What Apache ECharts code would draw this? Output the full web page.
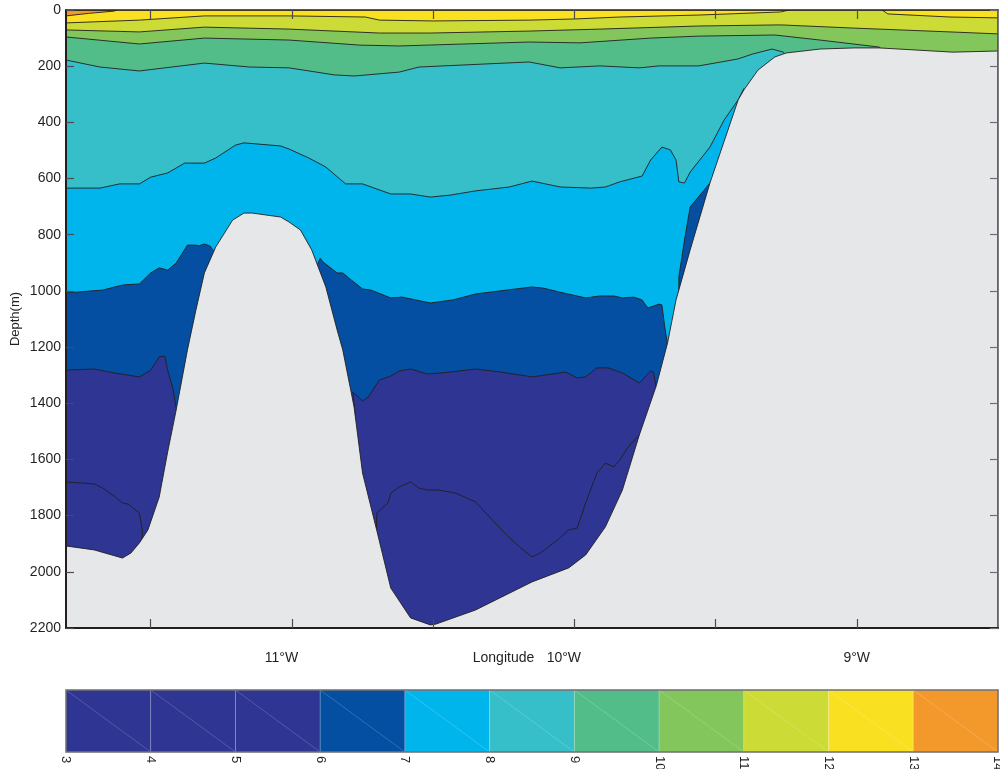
<!DOCTYPE html>
<html>
<head>
<meta charset="utf-8">
<script src="https://cdn.jsdelivr.net/npm/echarts@6/dist/echarts.min.js"></script>
<style>
  html, body { margin: 0; padding: 0; background: #ffffff; }
  #chart { width: 1000px; height: 769px; }
</style>
</head>
<body>
<div id="chart"></div>
<script>
// Section extent: longitude (degrees, west negative) and depth (m)
const lonExtent = [-11.8, -8.5];
const depthExtent = [0, 2200];
const lonTicks = [-11.5, -11, -10.5, -10, -9.5, -9];
const lonLabels = [-11, -10, -9];
const depthInterval = 200;

// Temperature levels (°C) and the fill colour of each interval
const levels = [3, 4, 5, 6, 7, 8, 9, 10, 11, 12, 13, 14];
const levelColors = ['#2e3592', '#2e3592', '#2e3592', '#044fa2', '#00b5ec', '#36bfc8',
                     '#53bd8a', '#83c65b', '#ccdb36', '#f9e020', '#f3992c'];

// Isotherms as [longitude, depth] vertices, west to east.
// Where an isotherm meets the sea floor it continues under the bottom profile.
const iso13 = [[-11.80, 21], [-11.72, 12], [-11.63, 4], [-11.62, 0]];
const iso12West = [[-11.80, 46], [-11.54, 36], [-11.31, 21], [-11.01, 21], [-10.74, 25], [-10.69, 36],
  [-10.50, 39], [-10.16, 36], [-10.00, 32], [-9.84, 25], [-9.56, 18], [-9.27, 7], [-9.24, 0]];
const iso12East = [[-8.91, 0], [-8.89, 14], [-8.67, 25], [-8.50, 28]];
const iso11 = [[-11.80, 71], [-11.54, 78], [-11.31, 61], [-11.01, 68], [-10.69, 82], [-10.51, 82],
  [-10.16, 75], [-9.91, 68], [-9.56, 57], [-9.27, 53], [-9.02, 64], [-8.67, 78], [-8.50, 85]];
const iso10 = [[-11.80, 96], [-11.54, 121], [-11.31, 100], [-11.01, 107], [-10.76, 125], [-10.62, 128],
  [-10.16, 114], [-9.98, 117], [-9.73, 100], [-9.56, 93], [-9.29, 89], [-9.13, 107], [-8.92, 132],
  [-8.85, 220], [-8.50, 220]];
const iso9 = [[-11.80, 178], [-11.68, 203], [-11.54, 217], [-11.45, 206], [-11.31, 189], [-11.15, 203],
  [-11.01, 206], [-10.85, 231], [-10.78, 235], [-10.62, 221], [-10.55, 203], [-10.16, 185], [-10.05, 206],
  [-9.91, 199], [-9.77, 206], [-9.70, 199], [-9.56, 199], [-9.48, 185], [-9.42, 174], [-9.37, 157],
  [-9.30, 139], [-9.26, 150], [-9.15, 300], [-8.50, 300]];
const iso8 = [[-11.80, 634], [-11.68, 634], [-11.61, 619], [-11.54, 619], [-11.50, 595], [-11.44, 580],
  [-11.38, 545], [-11.31, 545], [-11.27, 527], [-11.20, 481], [-11.17, 473], [-11.04, 484], [-11.01, 495],
  [-10.94, 527], [-10.88, 559], [-10.81, 619], [-10.75, 619], [-10.65, 655], [-10.58, 655], [-10.51, 666],
  [-10.44, 659], [-10.35, 644], [-10.23, 630], [-10.15, 609], [-10.05, 630], [-9.94, 634], [-9.89, 630],
  [-9.84, 612], [-9.76, 591], [-9.73, 534], [-9.69, 488], [-9.66, 498], [-9.64, 534], [-9.63, 612],
  [-9.61, 616], [-9.59, 577], [-9.52, 488], [-9.47, 392], [-9.42, 320], [-9.40, 280], [-9.30, 420],
  [-8.50, 420]];
const iso7 = [[-11.80, 1007], [-11.67, 997], [-11.60, 979], [-11.54, 975], [-11.50, 936], [-11.47, 918],
  [-11.44, 926], [-11.41, 901], [-11.37, 837], [-11.34, 837], [-11.33, 840], [-11.31, 833], [-11.29, 840],
  [-11.28, 854], [-11.10, 1000], [-10.95, 1000],
  [-10.90, 884], [-10.89, 897], [-10.84, 936], [-10.82, 936], [-10.79, 961], [-10.75, 993], [-10.72, 997],
  [-10.65, 1025], [-10.61, 1022], [-10.51, 1043], [-10.43, 1032], [-10.35, 1011], [-10.24, 997],
  [-10.15, 986], [-10.11, 990], [-10.04, 1007], [-9.96, 1025], [-9.91, 1018], [-9.86, 1018], [-9.83, 1025],
  [-9.79, 1022], [-9.76, 1032], [-9.74, 1061], [-9.70, 1047], [-9.69, 1050], [-9.68, 1128], [-9.67, 1193],
  [-9.58, 1193], [-9.62, 1040], [-9.63, 1032], [-9.63, 950], [-9.61, 819], [-9.59, 701], [-9.52, 616],
  [-9.40, 616], [-8.50, 616]];
const iso6 = [[-11.80, 1282], [-11.70, 1278], [-11.63, 1292], [-11.54, 1306], [-11.50, 1282], [-11.47, 1235],
  [-11.45, 1232], [-11.44, 1282], [-11.42, 1353], [-11.41, 1417], [-11.10, 1300], [-10.80, 1450],
  [-10.775, 1450], [-10.785, 1360], [-10.75, 1392], [-10.73, 1378], [-10.69, 1317], [-10.65, 1303],
  [-10.62, 1285], [-10.58, 1278], [-10.52, 1296], [-10.44, 1289], [-10.35, 1278], [-10.26, 1289],
  [-10.15, 1306], [-10.03, 1289], [-9.99, 1310], [-9.96, 1306], [-9.92, 1274], [-9.88, 1274], [-9.83, 1292],
  [-9.77, 1328], [-9.73, 1285], [-9.72, 1289], [-9.71, 1346], [-9.60, 1346], [-8.50, 1346]];
const iso5 = [[-11.80, 1680], [-11.70, 1687], [-11.67, 1702], [-11.63, 1730], [-11.60, 1755], [-11.58, 1759],
  [-11.54, 1791], [-11.53, 1851], [-11.53, 1905], [-11.30, 1950], [-10.80, 1950],
  [-10.70, 1851], [-10.70, 1791], [-10.66, 1755], [-10.65, 1720], [-10.62, 1698], [-10.58, 1680],
  [-10.55, 1702], [-10.52, 1709], [-10.48, 1709], [-10.42, 1720], [-10.35, 1751], [-10.30, 1805],
  [-10.24, 1869], [-10.19, 1915], [-10.15, 1947], [-10.12, 1933], [-10.06, 1887], [-10.02, 1851],
  [-9.99, 1844], [-9.96, 1755], [-9.92, 1648], [-9.89, 1613], [-9.86, 1627], [-9.84, 1602], [-9.81, 1556],
  [-9.77, 1513], [-9.60, 1513], [-8.50, 1513]];

// Sea-floor profile
const bottom = [[-11.80, 1908], [-11.70, 1922], [-11.60, 1951], [-11.57, 1933], [-11.54, 1897],
  [-11.51, 1851], [-11.47, 1734], [-11.44, 1573], [-11.41, 1424], [-11.37, 1210], [-11.34, 1068],
  [-11.31, 936], [-11.27, 844], [-11.21, 748], [-11.17, 723], [-11.14, 723], [-11.04, 737], [-11.01, 755],
  [-10.97, 783], [-10.93, 854], [-10.88, 986], [-10.84, 1139], [-10.82, 1210], [-10.78, 1413],
  [-10.75, 1648], [-10.70, 1851], [-10.65, 2058], [-10.58, 2164], [-10.51, 2189], [-10.49, 2186],
  [-10.35, 2136], [-10.15, 2036], [-10.02, 1986], [-9.96, 1940], [-9.89, 1840], [-9.83, 1709],
  [-9.77, 1513], [-9.71, 1338], [-9.67, 1185], [-9.64, 1032], [-9.59, 854], [-9.52, 616], [-9.42, 320],
  [-9.40, 285], [-9.35, 214], [-9.29, 167], [-9.25, 153], [-9.13, 139], [-9.01, 135], [-8.92, 135],
  [-8.66, 150], [-8.50, 146]];

const ink = '#231f20';
const floorColor = '#e6e7e8';
const font = "'Liberation Sans', Arial, Helvetica, sans-serif";

// Region on the warm (shallow) side of an isotherm, closed along the surface
function warmSide(line) {
  const pts = line.slice();
  const first = pts[0], last = pts[pts.length - 1];
  if (first[0] === lonExtent[0] && first[1] > depthExtent[0]) pts.unshift([lonExtent[0], depthExtent[0]]);
  if (last[0] === lonExtent[1] && last[1] > depthExtent[0]) pts.push([lonExtent[1], depthExtent[0]]);
  return pts;
}

function polygonSeries(name, pts, fill, z) {
  return {
    type: 'custom', name, xAxisIndex: 0, yAxisIndex: 0, z, silent: true, clip: true,
    data: pts,
    renderItem(params, api) {
      if (params.dataIndex !== 0) return null;
      return {
        type: 'polygon',
        shape: { points: pts.map(p => api.coord(p)) },
        style: { fill, stroke: ink, lineWidth: 0.9, lineJoin: 'round' }
      };
    }
  };
}

const basePoly = [[lonExtent[0], depthExtent[0]], [lonExtent[1], depthExtent[0]],
  [lonExtent[1], depthExtent[1]], [lonExtent[0], depthExtent[1]]];
const floorPoly = bottom.concat([[lonExtent[1], depthExtent[1]], [lonExtent[0], depthExtent[1]]]);

const color = t => levelColors[t - levels[0]];
const layers = [
  ['base', basePoly, color(3)],
  ['5', warmSide(iso5), color(5)],
  ['6', warmSide(iso6), color(6)],
  ['7', warmSide(iso7), color(7)],
  ['8', warmSide(iso8), color(8)],
  ['9', warmSide(iso9), color(9)],
  ['10', warmSide(iso10), color(10)],
  ['11', warmSide(iso11), color(11)],
  ['12w', warmSide(iso12West), color(12)],
  ['12e', warmSide(iso12East), color(12)],
  ['13', warmSide(iso13), color(13)],
  ['floor', floorPoly, floorColor]
];

const series = layers.map((l, i) => polygonSeries(l[0], l[1], l[2], 2 + i * 0.01));

// Colour bar cells
const cells = levelColors.map((c, i) => [levels[i], levels[i + 1], i]);
series.push({
  type: 'custom', name: 'colorbar', xAxisIndex: 2, yAxisIndex: 2, silent: true,
  data: cells,
  renderItem(params, api) {
    const lo = api.value(0), hi = api.value(1);
    const tl = api.coord([lo, 1]), br = api.coord([hi, 0]);
    return {
      type: 'group',
      children: [
        { type: 'rect', shape: { x: tl[0], y: tl[1], width: br[0] - tl[0], height: br[1] - tl[1] },
          style: { fill: levelColors[api.value(2)], stroke: 'rgba(255,255,255,0.22)', lineWidth: 0.8 } },
        { type: 'line', shape: { x1: tl[0], y1: tl[1], x2: br[0], y2: br[1] },
          style: { stroke: 'rgba(255,255,255,0.3)', lineWidth: 0.6 } }
      ]
    };
  }
});
series.push({
  type: 'custom', name: 'colorbar frame', xAxisIndex: 2, yAxisIndex: 2, silent: true, z: 5,
  data: [[levels[0], levels[levels.length - 1]]],
  renderItem(params, api) {
    const tl = api.coord([api.value(0), 1]), br = api.coord([api.value(1), 0]);
    return { type: 'rect', shape: { x: tl[0], y: tl[1], width: br[0] - tl[0], height: br[1] - tl[1] },
      style: { fill: 'none', stroke: '#6d6e71', lineWidth: 1.5 } };
  }
});

const labelStyle = { fontFamily: font, fontSize: 14, color: ink };

const chart = echarts.init(document.getElementById('chart'), null, { renderer: 'canvas' });
chart.setOption({
  animation: false,
  backgroundColor: '#ffffff',
  textStyle: { fontFamily: font },
  grid: [
    { left: 66, top: 10, width: 932, height: 618, containLabel: false, outerBoundsMode: 'none' },
    { left: 66, top: 690, width: 932, height: 62, containLabel: false, outerBoundsMode: 'none' }
  ],
  xAxis: [
    {
      type: 'value', gridIndex: 0, min: lonExtent[0], max: lonExtent[1], position: 'bottom', z: 10,
      name: 'Longitude', nameLocation: 'middle', nameGap: 23, nameMoveOverlap: false,
      nameTextStyle: Object.assign({}, labelStyle, { padding: [0, 57, 0, 0], verticalAlign: 'top' }),
      axisLine: { show: true, onZero: false, lineStyle: { color: ink, width: 2 } },
      axisTick: { show: true, inside: true, length: 9, customValues: lonTicks, lineStyle: { color: '#4d4d4f', width: 1.2 } },
      axisLabel: {
        show: true, margin: 23, customValues: lonLabels,
        formatter: v => {
          const t = Math.abs(Math.round(v)) + '°W';
          return t.length > 3 ? '{w|' + t + '}' : '{n|' + t + '}';
        },
        rich: {
          w: Object.assign({}, labelStyle, { padding: [0, 21, 0, 0] }),
          n: Object.assign({}, labelStyle)
        }
      },
      splitLine: { show: false }
    },
    {
      type: 'value', gridIndex: 0, min: lonExtent[0], max: lonExtent[1], position: 'top', z: 10,
      axisLine: { show: true, onZero: false, lineStyle: { color: ink, width: 1.5 } },
      axisTick: { show: true, inside: true, length: 9, customValues: lonTicks, lineStyle: { color: '#4d4d4f', width: 1.2 } },
      axisLabel: { show: false },
      splitLine: { show: false }
    },
    {
      type: 'value', gridIndex: 1, min: levels[0], max: levels[levels.length - 1], interval: 1,
      axisLine: { show: false },
      axisTick: { show: false },
      axisLabel: { show: true, rotate: -90, margin: 4, fontFamily: font, fontSize: 13, color: ink,
        hideOverlap: false, showMinLabel: true, showMaxLabel: true },
      splitLine: { show: false }
    }
  ],
  yAxis: [
    {
      type: 'value', gridIndex: 0, inverse: true, min: depthExtent[0], max: depthExtent[1],
      interval: depthInterval, position: 'left', z: 10,
      name: 'Depth(m)', nameLocation: 'middle', nameGap: 44, nameMoveOverlap: false,
      nameTextStyle: { fontFamily: font, fontSize: 13, color: ink },
      axisLine: { show: true, onZero: false, lineStyle: { color: ink, width: 2 } },
      axisTick: { show: true, inside: true, length: 8, lineStyle: { color: '#4d4d4f', width: 1.2 } },
      axisLabel: Object.assign({ show: true, margin: 5, formatter: v => String(v) }, labelStyle),
      splitLine: { show: false }
    },
    {
      type: 'value', gridIndex: 0, inverse: true, min: depthExtent[0], max: depthExtent[1],
      interval: depthInterval, position: 'right', z: 10,
      axisLine: { show: true, onZero: false, lineStyle: { color: '#555557', width: 1.5 } },
      axisTick: { show: true, inside: true, length: 8, lineStyle: { color: '#6d6e71', width: 1.2 } },
      axisLabel: { show: false },
      splitLine: { show: false }
    },
    {
      type: 'value', gridIndex: 1, min: 0, max: 1, show: false
    }
  ],
  series
});
</script>
</body>
</html>
